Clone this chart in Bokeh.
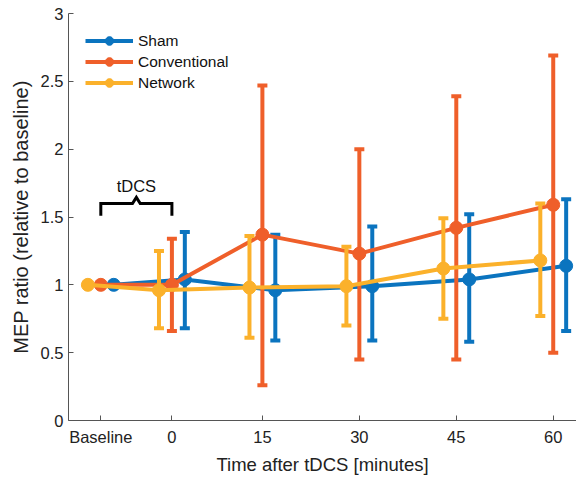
from bokeh.plotting import figure
from bokeh.models import FixedTicker, Legend, LegendItem, ColumnDataSource, Range1d
from bokeh.core.properties import value
from bokeh.embed import file_html
from bokeh.resources import INLINE

# ---- data ----
time_labels = ["Baseline", "0", "15", "30", "45", "60"]
time_pos = [-10, 1, 15, 30, 45, 60]

sham = [1.00, 1.04, 0.96, 0.99, 1.04, 1.14]
sham_lo = [1.00, 0.68, 0.59, 0.59, 0.58, 0.66]
sham_hi = [1.00, 1.39, 1.37, 1.43, 1.52, 1.63]

conv = [1.00, 1.00, 1.37, 1.23, 1.42, 1.59]
conv_lo = [1.00, 0.66, 0.26, 0.45, 0.45, 0.50]
conv_hi = [1.00, 1.34, 2.47, 2.00, 2.39, 2.69]

net = [1.00, 0.96, 0.98, 0.99, 1.12, 1.18]
net_lo = [1.00, 0.68, 0.61, 0.70, 0.75, 0.77]
net_hi = [1.00, 1.25, 1.36, 1.28, 1.49, 1.60]

y_ticks = [0, 0.5, 1, 1.5, 2, 2.5, 3]

FONT = "Liberation Sans"
series = [
    ("Sham", sham, sham_lo, sham_hi, "#0b74bf", 2),
    ("Conventional", conv, conv_lo, conv_hi, "#ef5f2a", 0),
    ("Network", net, net_lo, net_hi, "#fbb12b", -2),
]

p = figure(width=576, height=477, output_backend="svg", toolbar_location=None,
           x_range=Range1d(-15, 63.6), y_range=Range1d(0, 3),
           min_border_left=68, min_border_right=0, min_border_top=13, min_border_bottom=57)
p.outline_line_color = None
p.xgrid.visible = False
p.ygrid.visible = False
p.background_fill_color = "white"
p.border_fill_color = "white"

items = []
for name, mean, lo, hi, col, off in series:
    xs = [t + off for t in time_pos]
    src = ColumnDataSource(dict(x=xs, y=mean, lo=lo, hi=hi))
    p.segment(x0="x", y0="lo", x1="x", y1="hi", source=src, line_color=col, line_width=4)
    p.scatter(x="x", y="lo", source=src, marker="dash", size=10, line_color=col, line_width=4)
    p.scatter(x="x", y="hi", source=src, marker="dash", size=10, line_color=col, line_width=4)
    lr = p.line(x="x", y="y", source=src, line_color=col, line_width=4)
    cr = p.scatter(x="x", y="y", source=src, marker="circle", size=13,
                   fill_color=col, line_color=col)
    leg_src = ColumnDataSource(dict(x=xs[:1], y=mean[:1]))
    xr = p.scatter(x="x", y="y", source=leg_src, marker="cross", size=0,
                   line_color=col, line_width=4)
    items.append(LegendItem(label=name, renderers=[lr, xr, cr]))

# tDCS bracket
xb, x0 = time_pos[0], time_pos[1]
xm = (xb + x0) / 2
tip, bar, peak, notch = 1.51, 1.60, 1.645, 0.6
p.line(x=[xb, xb, xm - notch, xm, xm + notch, x0, x0],
       y=[tip, bar, bar, peak, bar, bar, tip],
       line_color="black", line_width=3, line_join="miter")
p.text(x=[xm], y=[1.73], text=["tDCS"], text_align="center", text_baseline="middle",
       text_font=value(FONT), text_font_size="16.5px", text_color="#111111")

legend = Legend(items=items, location="top_left", margin=17, padding=0,
                glyph_width=48, glyph_height=21, spacing=0, label_standoff=5,
                label_text_font=FONT, label_text_font_size="15.5px",
                label_text_color="#111111",
                background_fill_alpha=0, border_line_color=None)
p.add_layout(legend)

# axes
p.xaxis.ticker = FixedTicker(ticks=time_pos)
p.xaxis.major_label_overrides = {t: l for t, l in zip(time_pos, time_labels)}
p.yaxis.ticker = FixedTicker(ticks=y_ticks)
p.yaxis.major_label_overrides = {t: ("%g" % t) for t in y_ticks}
for ax in (p.xaxis, p.yaxis):
    ax.axis_line_color = "#555555"
    ax.axis_line_width = 1
    ax.major_tick_line_color = "#555555"
    ax.major_tick_in = 5
    ax.major_tick_out = 0
    ax.minor_tick_line_color = None
    ax.major_label_text_font = FONT
    ax.major_label_text_font_size = "16.5px"
    ax.major_label_text_color = "#222222"
    ax.axis_label_text_font = FONT
    ax.axis_label_text_font_style = "normal"
    ax.axis_label_text_color = "#222222"
p.xaxis.axis_label_text_font_size = "18.5px"
p.yaxis.axis_label_text_font_size = "20px"
p.xaxis.axis_label = "Time after tDCS [minutes]"
p.yaxis.axis_label = "MEP ratio (relative to baseline)"
p.xaxis.major_label_standoff = 7
p.xaxis.axis_label_standoff = 5
p.yaxis.major_label_standoff = 5
p.yaxis.axis_label_standoff = 6

open("out.html", "w").write(file_html(p, INLINE))
